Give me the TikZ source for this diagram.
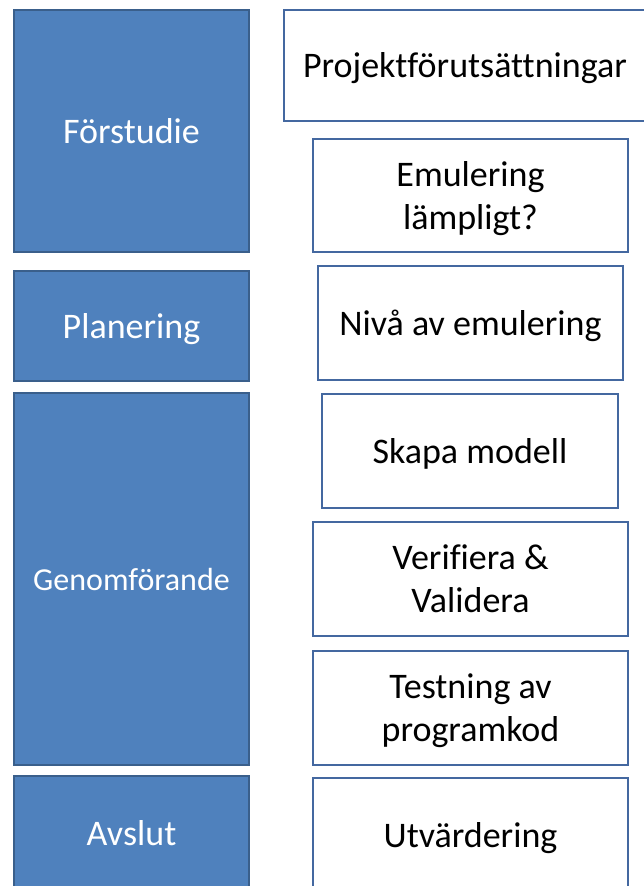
\documentclass[tikz,border=0pt]{standalone}
\usepackage{fontspec}
\setmainfont[Ligatures=CommonOff]{Carlito}
\definecolor{phasefill}{HTML}{4F81BD}
\definecolor{phaseline}{HTML}{3A5F8B}
\definecolor{taskline}{HTML}{4468A0}
\begin{document}
\begin{tikzpicture}[x=1pt,y=-1pt,
  boxtext/.style={align=center, text depth=0pt},
  phase/.style={rectangle, fill=phasefill, draw=phaseline, line width=2pt,
    inner sep=0pt, text=white, boxtext, font=\fontsize{36}{43}\selectfont},
  task/.style={rectangle, fill=white, draw=taskline, line width=2.4pt,
    inner sep=0pt, text=black, boxtext, font=\fontsize{36}{43}\selectfont}]
\useasboundingbox (0,0) rectangle (643,886);
% phases (left column)
\node[phase, minimum width=235pt, minimum height=242pt] (fs) at (131.5,131) {Förstudie};
\node[phase, minimum width=235pt, minimum height=110pt] (pl) at (131.5,326) {Planering};
\node[phase, minimum width=235pt, minimum height=372pt, font=\fontsize{32}{38}\selectfont] (ge) at (131.5,579) {Genomförande};
\node[phase, minimum width=235pt, minimum height=114pt] (av) at (131.5,833) {Avslut};
% activities (right column)
\node[task, minimum width=362pt, minimum height=111pt] (pf) at (465,65.5) {Projektförutsättningar};
\node[task, minimum width=315pt, minimum height=113pt] (em) at (470.5,195.5) {Emulering\\lämpligt?};
\node[task, minimum width=305pt, minimum height=114pt] (ni) at (470.5,323) {Nivå av emulering};
\node[task, minimum width=296pt, minimum height=114pt] (sk) at (470,451) {Skapa modell};
\node[task, minimum width=315pt, minimum height=114pt] (vv) at (470.5,579) {Verifiera \&\\Validera};
\node[task, minimum width=315pt, minimum height=114pt] (te) at (470.5,708) {Testning av\\programkod};
\node[task, minimum width=315pt, minimum height=114pt] (ut) at (470.5,835) {Utvärdering};
\end{tikzpicture}
\end{document}
